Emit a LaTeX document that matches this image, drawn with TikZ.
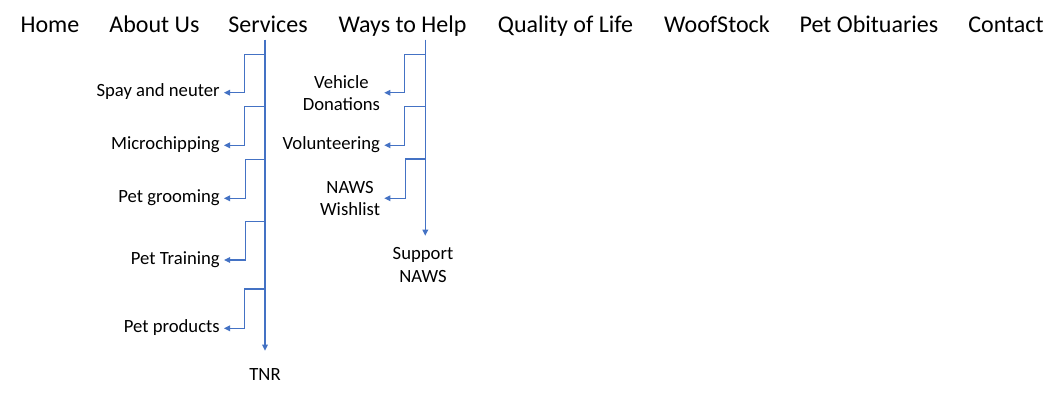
\documentclass[tikz,border=0pt]{standalone}
\usepackage{fontspec}
\setmainfont{Carlito}
\usetikzlibrary{arrows.meta,calc}
\definecolor{lnblue}{HTML}{4472C4}
\tikzset{
  menu/.style={font=\fontsize{18}{21.6}\selectfont, inner xsep=0pt, inner ysep=5.25pt, text depth=0pt, anchor=base},
  lbl/.style={font=\fontsize{14}{16.8}\selectfont, inner xsep=3pt, inner ysep=0pt, text height=0.644em, text depth=0pt, anchor=east},
  lbltwo/.style={font=\fontsize{14}{16.8}\selectfont, inner xsep=3pt, inner ysep=0pt, align=center, anchor=east},
  lblbot/.style={font=\fontsize{14}{16.8}\selectfont, inner xsep=0pt, align=center, anchor=north},
  arr/.style={draw=lnblue, line width=0.9pt, -{Triangle[length=4.5pt,width=4.2pt]}},
}
\begin{document}
\begin{tikzpicture}[x=0.75pt,y=-0.75pt]
\useasboundingbox[fill=white] (0,0) rectangle (1057,402);
% menu
\node[menu] (home) at (50,32.3) {Home};
\node[menu] (about) at (154.5,32.3) {About Us};
\node[menu] (serv) at (268,32.3) {Services};
\node[menu] (ways) at (402.5,32.3) {Ways to Help};
\node[menu] (qual) at (565.5,32.3) {Quality of Life};
\node[menu] (woof) at (717,32.3) {WoofStock};
\node[menu] (obit) at (869,32.3) {Pet Obituaries};
\node[menu] (cont) at (1006,32.3) {Contact};
% services labels
\node[lbl] (spay) at (224,92.7) {Spay and neuter};
\node[lbl] (micro) at (224,145.3) {Microchipping};
\node[lbl] (groom) at (224,198.3) {Pet grooming};
\node[lbl] (train) at (224,260) {Pet Training};
\node[lbl] (prod) at (224,328.3) {Pet products};
\node[lblbot, inner ysep=13pt] (tnr) at (265,350.7) {TNR};
% ways to help labels
\node[lbltwo] (veh) at (384.3,92.8) {Vehicle\\Donations};
\node[lbl] (vol) at (384.3,145.3) {Volunteering};
\node[lbltwo] (wish) at (384.3,198.3) {NAWS\\Wishlist};
\node[lblbot, inner ysep=8.7pt] (supp) at (423,235.7) {Support\\NAWS};
% trunk coordinates
\coordinate (sx) at (265,0);
\coordinate (wx) at (425.3,0);
\coordinate (s1) at (265,54.3);
\coordinate (s2) at (265,106.3);
\coordinate (s3) at (265,159.3);
\coordinate (s4) at (265,221.3);
\coordinate (s5) at (265,289);
\coordinate (w1) at (425.3,54.3);
\coordinate (w2) at (425.3,106.3);
\coordinate (w3) at (425.3,159);
% trunks
\draw[arr] (serv.south -| sx) -- (tnr.north -| sx);
\draw[arr] (ways.south -| wx) -- (supp.north -| wx);
% services branches
\draw[arr] (s1) -| ($(spay.east)+(20.5,0)$) -- (spay.east);
\draw[arr] (s2) -| ($(micro.east)+(20.5,0)$) -- (micro.east);
\draw[arr] (s3) -| ($(groom.east)+(21.5,0)$) -- (groom.east);
\draw[arr] (s4) -| ($(train.east)+(21.5,0)$) -- (train.east);
\draw[arr] (s5) -| ($(prod.east)+(20.5,0)$) -- (prod.east);
% ways branches
\draw[arr] (w1) -| ($(veh.east)+(20,0)$) -- (veh.east);
\draw[arr] (w2) -| ($(vol.east)+(20,0)$) -- (vol.east);
\draw[arr] (w3) -| ($(wish.east)+(21,0)$) -- (wish.east);
\end{tikzpicture}
\end{document}
